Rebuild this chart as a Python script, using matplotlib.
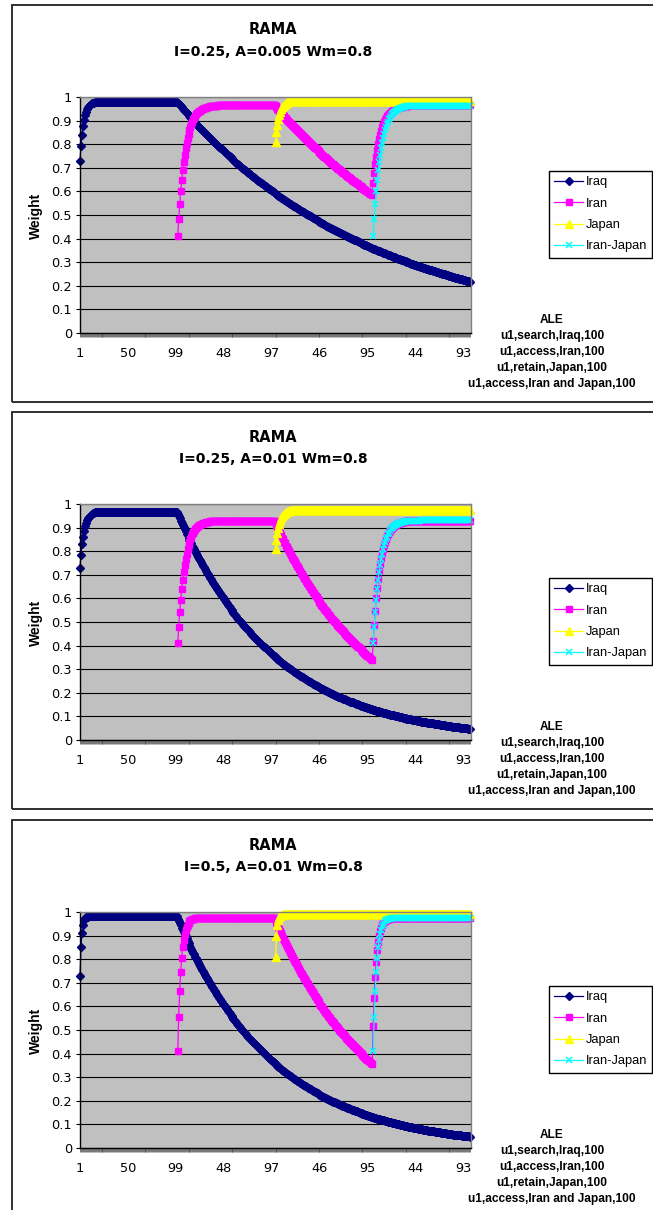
import numpy as np
import matplotlib
matplotlib.use("Agg")
import matplotlib.pyplot as plt
from matplotlib.patches import Rectangle
from matplotlib.ticker import FixedLocator

plt.rcParams['font.family'] = ['Liberation Sans', 'DejaVu Sans']

# ---------------- data ----------------
categories = [str(i % 100 + 1) for i in range(400)]
label_every = 49
y_ticks = [0.0, 0.1, 0.2, 0.3, 0.4, 0.5, 0.6, 0.7, 0.8, 0.9, 1.0]
y_tick_labels = ["0", "0.1", "0.2", "0.3", "0.4", "0.5", "0.6", "0.7", "0.8", "0.9", "1"]
series_names = ["Iraq", "Iran", "Japan", "Iran-Japan"]
titles = ["RAMA", "RAMA", "RAMA"]
subtitles = ["I=0.25, A=0.005 Wm=0.8", "I=0.25, A=0.01 Wm=0.8", "I=0.5, A=0.01 Wm=0.8"]
ale_lines = ["ALE", "u1,search,Iraq,100", "u1,access,Iran,100",
             "u1,retain,Japan,100", "u1,access,Iran and Japan,100"]

# Panel 1: I=0.25, A=0.005
iraq_a = [0.730, 0.794, 0.841, 0.876, 0.903, 0.922, 0.937, 0.948, 0.956, 0.962,
          0.967, 0.970, 0.973, 0.975, 0.976, 0.977, 0.978, 0.979, 0.979, 0.980] + [0.980] * 80 + [
    0.975, 0.970, 0.966, 0.961, 0.956, 0.951, 0.946, 0.942, 0.937, 0.932,
    0.928, 0.923, 0.919, 0.914, 0.910, 0.905, 0.901, 0.896, 0.892, 0.887,
    0.883, 0.878, 0.874, 0.869, 0.865, 0.861, 0.856, 0.852, 0.847, 0.843,
    0.839, 0.835, 0.831, 0.827, 0.823, 0.818, 0.814, 0.810, 0.806, 0.802,
    0.798, 0.794, 0.790, 0.786, 0.782, 0.779, 0.775, 0.771, 0.767, 0.763,
    0.759, 0.755, 0.752, 0.748, 0.744, 0.740, 0.736, 0.733, 0.729, 0.725,
    0.722, 0.718, 0.715, 0.711, 0.708, 0.704, 0.701, 0.697, 0.694, 0.690,
    0.687, 0.683, 0.680, 0.676, 0.673, 0.670, 0.666, 0.663, 0.659, 0.656,
    0.653, 0.650, 0.646, 0.643, 0.640, 0.637, 0.634, 0.630, 0.627, 0.624,
    0.621, 0.618, 0.615, 0.612, 0.609, 0.606, 0.603, 0.600, 0.597, 0.594,
    0.591, 0.588, 0.585, 0.582, 0.580, 0.577, 0.574, 0.571, 0.568, 0.565,
    0.562, 0.559, 0.557, 0.554, 0.551, 0.548, 0.545, 0.543, 0.540, 0.537,
    0.534, 0.532, 0.529, 0.527, 0.524, 0.521, 0.519, 0.516, 0.514, 0.511,
    0.509, 0.506, 0.504, 0.501, 0.499, 0.496, 0.494, 0.491, 0.489, 0.486,
    0.484, 0.481, 0.479, 0.476, 0.474, 0.472, 0.469, 0.467, 0.464, 0.462,
    0.460, 0.457, 0.455, 0.453, 0.451, 0.448, 0.446, 0.444, 0.441, 0.439,
    0.437, 0.435, 0.433, 0.431, 0.429, 0.426, 0.424, 0.422, 0.420, 0.418,
    0.416, 0.414, 0.412, 0.410, 0.408, 0.406, 0.404, 0.402, 0.400, 0.398,
    0.396, 0.394, 0.392, 0.390, 0.388, 0.386, 0.384, 0.382, 0.380, 0.378,
    0.376, 0.374, 0.373, 0.371, 0.369, 0.367, 0.365, 0.364, 0.362, 0.360,
    0.358, 0.356, 0.355, 0.353, 0.351, 0.349, 0.347, 0.346, 0.344, 0.342,
    0.340, 0.339, 0.337, 0.335, 0.334, 0.332, 0.330, 0.329, 0.327, 0.325,
    0.323, 0.322, 0.320, 0.319, 0.317, 0.315, 0.314, 0.312, 0.311, 0.309,
    0.308, 0.306, 0.305, 0.303, 0.302, 0.300, 0.299, 0.297, 0.296, 0.294,
    0.293, 0.291, 0.290, 0.288, 0.287, 0.286, 0.284, 0.283, 0.281, 0.280,
    0.279, 0.277, 0.276, 0.274, 0.273, 0.272, 0.270, 0.269, 0.267, 0.266,
    0.265, 0.263, 0.262, 0.261, 0.260, 0.258, 0.257, 0.256, 0.254, 0.253,
    0.252, 0.251, 0.249, 0.248, 0.247, 0.246, 0.245, 0.243, 0.242, 0.241,
    0.240, 0.239, 0.237, 0.236, 0.235, 0.234, 0.233, 0.231, 0.230, 0.229,
    0.228, 0.227, 0.226, 0.225, 0.224, 0.222, 0.221, 0.220, 0.219, 0.218]

iran_a = [None] * 100 + [
    0.410, 0.482, 0.545, 0.600, 0.647, 0.689, 0.725, 0.756, 0.783, 0.807,
    0.827, 0.845, 0.861, 0.874, 0.886, 0.896, 0.905, 0.913, 0.920, 0.926,
    0.931, 0.935, 0.939, 0.942, 0.945, 0.948, 0.950, 0.952, 0.954, 0.955,
    0.957, 0.958, 0.959, 0.960, 0.960, 0.961, 0.961, 0.962, 0.962, 0.963,
    0.963] + [0.964] * 9 + [0.965] * 50 + [
    0.960, 0.956, 0.951, 0.946, 0.941, 0.937, 0.932, 0.927, 0.923, 0.918,
    0.913, 0.909, 0.904, 0.900, 0.895, 0.891, 0.886, 0.882, 0.877, 0.873,
    0.869, 0.864, 0.860, 0.856, 0.852, 0.847, 0.843, 0.839, 0.835, 0.830,
    0.826, 0.822, 0.818, 0.814, 0.810, 0.806, 0.802, 0.798, 0.794, 0.790,
    0.786, 0.782, 0.778, 0.774, 0.770, 0.767, 0.763, 0.759, 0.755, 0.751,
    0.747, 0.744, 0.740, 0.736, 0.733, 0.729, 0.725, 0.722, 0.718, 0.714,
    0.711, 0.707, 0.704, 0.700, 0.697, 0.693, 0.690, 0.686, 0.683, 0.679,
    0.676, 0.673, 0.669, 0.666, 0.663, 0.659, 0.656, 0.653, 0.649, 0.646,
    0.643, 0.640, 0.637, 0.634, 0.630, 0.627, 0.624, 0.621, 0.618, 0.615,
    0.612, 0.609, 0.606, 0.603, 0.600, 0.597, 0.594, 0.591, 0.588, 0.585] + [
    0.634, 0.677, 0.715, 0.747, 0.776, 0.800, 0.822, 0.840, 0.857, 0.871,
    0.883, 0.894, 0.903, 0.911, 0.918, 0.924, 0.929, 0.934, 0.938, 0.942,
    0.945, 0.947, 0.950, 0.952, 0.953, 0.955, 0.956, 0.957, 0.958, 0.959,
    0.960, 0.961, 0.961, 0.962, 0.962, 0.963, 0.963] + [0.964] * 10 + [0.965] * 53

japan_a = [None] * 200 + [
    0.810, 0.850, 0.881, 0.905, 0.924, 0.938, 0.949, 0.957, 0.963, 0.968,
    0.972, 0.975, 0.977, 0.979, 0.981, 0.982, 0.982, 0.983, 0.983, 0.984] + [0.984] * 10 + [0.985] * 170

iran_japan_a = [None] * 300 + [
    0.410, 0.482, 0.545, 0.600, 0.647, 0.689, 0.725, 0.756, 0.783, 0.807,
    0.827, 0.845, 0.861, 0.874, 0.886, 0.896, 0.905, 0.913, 0.920, 0.926,
    0.931, 0.935, 0.939, 0.942, 0.945, 0.948, 0.950, 0.952, 0.954, 0.955,
    0.957, 0.958, 0.959, 0.960, 0.960, 0.961, 0.961, 0.962, 0.962, 0.962,
    0.963] + [0.963] * 59

# Panel 2: I=0.25, A=0.01
iraq_b = [0.730, 0.785, 0.829, 0.862, 0.887, 0.906, 0.920, 0.931, 0.940, 0.946,
          0.951, 0.955, 0.958, 0.960, 0.962, 0.964, 0.965, 0.966, 0.967, 0.967,
          0.968] + [0.968] * 79 + [
    0.958, 0.949, 0.939, 0.930, 0.921, 0.911, 0.902, 0.893, 0.884, 0.875,
    0.867, 0.858, 0.849, 0.841, 0.833, 0.824, 0.816, 0.808, 0.800, 0.792,
    0.784, 0.776, 0.768, 0.761, 0.753, 0.745, 0.738, 0.731, 0.723, 0.716,
    0.709, 0.702, 0.695, 0.688, 0.681, 0.674, 0.667, 0.661, 0.654, 0.648,
    0.641, 0.635, 0.628, 0.622, 0.616, 0.610, 0.604, 0.598, 0.592, 0.586,
    0.580, 0.574, 0.568, 0.563, 0.557, 0.551, 0.546, 0.540, 0.535, 0.530,
    0.524, 0.519, 0.514, 0.509, 0.504, 0.499, 0.494, 0.489, 0.484, 0.479,
    0.474, 0.470, 0.465, 0.460, 0.456, 0.451, 0.447, 0.442, 0.438, 0.433,
    0.429, 0.425, 0.420, 0.416, 0.412, 0.408, 0.404, 0.400, 0.396, 0.392,
    0.388, 0.384, 0.380, 0.376, 0.373, 0.369, 0.365, 0.362, 0.358, 0.354,
    0.351, 0.347, 0.344, 0.340, 0.337, 0.334, 0.330, 0.327, 0.324, 0.320,
    0.317, 0.314, 0.311, 0.308, 0.305, 0.302, 0.299, 0.296, 0.293, 0.290,
    0.287, 0.284, 0.281, 0.278, 0.276, 0.273, 0.270, 0.267, 0.265, 0.262,
    0.260, 0.257, 0.254, 0.252, 0.249, 0.247, 0.244, 0.242, 0.239, 0.237,
    0.235, 0.232, 0.230, 0.228, 0.225, 0.223, 0.221, 0.219, 0.217, 0.214,
    0.212, 0.210, 0.208, 0.206, 0.204, 0.202, 0.200, 0.198, 0.196, 0.194,
    0.192, 0.190, 0.188, 0.186, 0.184, 0.183, 0.181, 0.179, 0.177, 0.175,
    0.174, 0.172, 0.170, 0.168, 0.167, 0.165, 0.163, 0.162, 0.160, 0.159,
    0.157, 0.155, 0.154, 0.152, 0.151, 0.149, 0.148, 0.146, 0.145, 0.143,
    0.142, 0.141, 0.139, 0.138, 0.136, 0.135, 0.134, 0.132, 0.131, 0.130,
    0.128, 0.127, 0.126, 0.125, 0.123, 0.122, 0.121, 0.120, 0.119, 0.117,
    0.116, 0.115, 0.114, 0.113, 0.112, 0.110, 0.109, 0.108, 0.107, 0.106,
    0.105, 0.104, 0.103, 0.102, 0.101, 0.100, 0.099, 0.098, 0.097, 0.096,
    0.095, 0.094, 0.093, 0.092, 0.091, 0.090, 0.089, 0.089, 0.088, 0.087,
    0.086, 0.085, 0.084, 0.083, 0.083, 0.082, 0.081, 0.080, 0.079, 0.078,
    0.078, 0.077, 0.076, 0.075, 0.075, 0.074, 0.073, 0.072, 0.072, 0.071,
    0.070, 0.070, 0.069, 0.068, 0.068, 0.067, 0.066, 0.066, 0.065, 0.064,
    0.064, 0.063, 0.062, 0.062, 0.061, 0.060, 0.060, 0.059, 0.059, 0.058,
    0.058, 0.057, 0.056, 0.056, 0.055, 0.055, 0.054, 0.054, 0.053, 0.052,
    0.052, 0.051, 0.051, 0.050, 0.050, 0.049, 0.049, 0.048, 0.048, 0.047]

iran_b = [None] * 100 + [
    0.410, 0.480, 0.541, 0.593, 0.639, 0.678, 0.712, 0.742, 0.767, 0.789,
    0.808, 0.825, 0.839, 0.851, 0.862, 0.871, 0.879, 0.886, 0.892, 0.897,
    0.901, 0.905, 0.909, 0.912, 0.914, 0.916, 0.918, 0.920, 0.921, 0.922,
    0.923, 0.924, 0.925, 0.926, 0.926, 0.927, 0.927, 0.928, 0.928] + [0.929] * 10 + [0.930] * 51 + [
    0.921, 0.911, 0.902, 0.893, 0.884, 0.876, 0.867, 0.858, 0.850, 0.841,
    0.833, 0.824, 0.816, 0.808, 0.800, 0.792, 0.784, 0.776, 0.768, 0.761,
    0.753, 0.746, 0.738, 0.731, 0.723, 0.716, 0.709, 0.702, 0.695, 0.688,
    0.681, 0.674, 0.667, 0.661, 0.654, 0.648, 0.641, 0.635, 0.628, 0.622,
    0.616, 0.610, 0.604, 0.598, 0.592, 0.586, 0.580, 0.574, 0.568, 0.563,
    0.557, 0.551, 0.546, 0.541, 0.535, 0.530, 0.524, 0.519, 0.514, 0.509,
    0.504, 0.499, 0.494, 0.489, 0.484, 0.479, 0.474, 0.470, 0.465, 0.460,
    0.456, 0.451, 0.447, 0.442, 0.438, 0.433, 0.429, 0.425, 0.420, 0.416,
    0.412, 0.408, 0.404, 0.400, 0.396, 0.392, 0.388, 0.384, 0.380, 0.376,
    0.373, 0.369, 0.365, 0.362, 0.358, 0.354, 0.351, 0.347, 0.344, 0.340] + [
    0.420, 0.489, 0.548, 0.600, 0.644, 0.683, 0.716, 0.745, 0.770, 0.792,
    0.810, 0.827, 0.840, 0.853, 0.863, 0.872, 0.880, 0.887, 0.893, 0.898,
    0.902, 0.906, 0.909, 0.912, 0.914, 0.916, 0.918, 0.920, 0.921, 0.922,
    0.923, 0.924, 0.925, 0.926, 0.926, 0.927, 0.927, 0.928, 0.928] + [0.929] * 10 + [0.930] * 51

japan_b = [None] * 200 + [
    0.810, 0.848, 0.877, 0.900, 0.917, 0.930, 0.941, 0.949, 0.955, 0.959,
    0.963, 0.966, 0.968, 0.970, 0.971, 0.972, 0.973, 0.973] + [0.974] * 10 + [0.975] * 172

iran_japan_b = [None] * 300 + [
    0.410, 0.480, 0.541, 0.593, 0.639, 0.678, 0.712, 0.742, 0.767, 0.789,
    0.808, 0.825, 0.839, 0.851, 0.862, 0.871, 0.879, 0.886, 0.892, 0.897,
    0.901, 0.905, 0.909, 0.912, 0.914, 0.916, 0.918, 0.920, 0.921, 0.922,
    0.923, 0.924, 0.925, 0.926, 0.926, 0.927, 0.927, 0.928, 0.928] + [0.930] * 10 + [0.932] * 51

# Panel 3: I=0.5, A=0.01
iraq_c = [0.730, 0.850, 0.912, 0.946, 0.964, 0.973, 0.977, 0.979, 0.980, 0.981] + [0.982] * 90 + [
    0.972, 0.962, 0.953, 0.943, 0.934, 0.925, 0.915, 0.906, 0.897, 0.888,
    0.879, 0.870, 0.862, 0.853, 0.845, 0.836, 0.828, 0.820, 0.811, 0.803,
    0.795, 0.787, 0.779, 0.772, 0.764, 0.756, 0.749, 0.741, 0.734, 0.726,
    0.719, 0.712, 0.705, 0.698, 0.691, 0.684, 0.677, 0.670, 0.664, 0.657,
    0.650, 0.644, 0.637, 0.631, 0.625, 0.618, 0.612, 0.606, 0.600, 0.594,
    0.588, 0.582, 0.576, 0.571, 0.565, 0.559, 0.554, 0.548, 0.543, 0.537,
    0.532, 0.527, 0.521, 0.516, 0.511, 0.506, 0.501, 0.496, 0.491, 0.486,
    0.481, 0.476, 0.472, 0.467, 0.462, 0.458, 0.453, 0.448, 0.444, 0.439,
    0.435, 0.431, 0.426, 0.422, 0.418, 0.414, 0.410, 0.406, 0.401, 0.397,
    0.394, 0.390, 0.386, 0.382, 0.378, 0.374, 0.370, 0.367, 0.363, 0.359,
    0.356, 0.352, 0.349, 0.345, 0.342, 0.338, 0.335, 0.332, 0.328, 0.325,
    0.322, 0.319, 0.315, 0.312, 0.309, 0.306, 0.303, 0.300, 0.297, 0.294,
    0.291, 0.288, 0.285, 0.282, 0.280, 0.277, 0.274, 0.271, 0.269, 0.266,
    0.263, 0.261, 0.258, 0.255, 0.253, 0.250, 0.248, 0.245, 0.243, 0.240,
    0.238, 0.236, 0.233, 0.231, 0.229, 0.226, 0.224, 0.222, 0.220, 0.217,
    0.215, 0.213, 0.211, 0.209, 0.207, 0.205, 0.203, 0.201, 0.199, 0.197,
    0.195, 0.193, 0.191, 0.189, 0.187, 0.185, 0.183, 0.181, 0.180, 0.178,
    0.176, 0.174, 0.173, 0.171, 0.169, 0.168, 0.166, 0.164, 0.163, 0.161,
    0.159, 0.158, 0.156, 0.155, 0.153, 0.151, 0.150, 0.148, 0.147, 0.146,
    0.144, 0.143, 0.141, 0.140, 0.138, 0.137, 0.136, 0.134, 0.133, 0.132,
    0.130, 0.129, 0.128, 0.126, 0.125, 0.124, 0.123, 0.121, 0.120, 0.119,
    0.118, 0.117, 0.115, 0.114, 0.113, 0.112, 0.111, 0.110, 0.109, 0.108,
    0.107, 0.105, 0.104, 0.103, 0.102, 0.101, 0.100, 0.099, 0.098, 0.097,
    0.096, 0.095, 0.094, 0.093, 0.093, 0.092, 0.091, 0.090, 0.089, 0.088,
    0.087, 0.086, 0.085, 0.085, 0.084, 0.083, 0.082, 0.081, 0.080, 0.080,
    0.079, 0.078, 0.077, 0.076, 0.076, 0.075, 0.074, 0.073, 0.073, 0.072,
    0.071, 0.071, 0.070, 0.069, 0.068, 0.068, 0.067, 0.066, 0.066, 0.065,
    0.064, 0.064, 0.063, 0.063, 0.062, 0.061, 0.061, 0.060, 0.059, 0.059,
    0.058, 0.058, 0.057, 0.057, 0.056, 0.055, 0.055, 0.054, 0.054, 0.053,
    0.053, 0.052, 0.052, 0.051, 0.051, 0.050, 0.050, 0.049, 0.049, 0.048]

iran_c = [None] * 100 + [
    0.410, 0.557, 0.666, 0.746, 0.806, 0.850, 0.882, 0.906, 0.924, 0.937,
    0.947, 0.954, 0.960, 0.964, 0.967, 0.969, 0.970, 0.972, 0.973, 0.973] + [0.974] * 10 + [0.975] * 70 + [
    0.965, 0.956, 0.946, 0.937, 0.927, 0.918, 0.909, 0.900, 0.891, 0.882,
    0.873, 0.864, 0.856, 0.847, 0.839, 0.830, 0.822, 0.814, 0.806, 0.797,
    0.790, 0.782, 0.774, 0.766, 0.758, 0.751, 0.743, 0.736, 0.729, 0.721,
    0.714, 0.707, 0.700, 0.693, 0.686, 0.679, 0.672, 0.666, 0.659, 0.652,
    0.646, 0.639, 0.633, 0.627, 0.620, 0.614, 0.608, 0.602, 0.596, 0.590,
    0.584, 0.578, 0.572, 0.567, 0.561, 0.555, 0.550, 0.544, 0.539, 0.533,
    0.528, 0.523, 0.518, 0.512, 0.507, 0.502, 0.497, 0.492, 0.487, 0.482,
    0.478, 0.473, 0.468, 0.463, 0.459, 0.454, 0.450, 0.445, 0.441, 0.436,
    0.432, 0.428, 0.423, 0.419, 0.415, 0.411, 0.407, 0.403, 0.399, 0.395,
    0.391, 0.387, 0.383, 0.379, 0.375, 0.372, 0.368, 0.364, 0.361, 0.357] + [
    0.518, 0.637, 0.725, 0.790, 0.838, 0.874, 0.900, 0.919, 0.934, 0.945,
    0.953, 0.958, 0.963, 0.966, 0.968, 0.970, 0.971, 0.972, 0.973] + [0.974] * 10 + [0.975] * 71

japan_c = [None] * 200 + [0.810, 0.900, 0.945, 0.968, 0.979, 0.984, 0.987, 0.989] + [0.990] * 192

iran_japan_c = [None] * 300 + [
    0.410, 0.557, 0.666, 0.746, 0.806, 0.850, 0.882, 0.906, 0.924, 0.937,
    0.947, 0.954, 0.960, 0.964, 0.967, 0.969, 0.970, 0.972, 0.973, 0.973] + [0.974] * 10 + [0.975] * 70

panels = [
    (iraq_a, iran_a, japan_a, iran_japan_a),
    (iraq_b, iran_b, japan_b, iran_japan_b),
    (iraq_c, iran_c, japan_c, iran_japan_c),
]

# ---------------- styling ----------------
styles = [
    dict(color="#000080", marker="D", ms=3.7, mec="#000080", mfc="#000080"),
    dict(color="#FF00FF", marker="s", ms=4.6, mec="#FF00FF", mfc="#FF00FF"),
    dict(color="#FFFF00", marker="^", ms=5.4, mec="#FFFF00", mfc="#FFFF00"),
    dict(color="#00FFFF", marker="x", ms=5.0, mec="#00FFFF", mew=1.1),
]

W, H = 653, 1210
fig = plt.figure(figsize=(W / 100, H / 100), dpi=100)
fig.patch.set_facecolor("white")


def fx(x):
    return x / W


def fy(y):
    return 1 - y / H


offsets = [0, 407, 815]

for p, (off, series) in enumerate(zip(offsets, panels)):
    # chart border
    fig.add_artist(Rectangle((fx(12), fy(402 + off)), fx(700) - fx(12), 397 / H,
                             transform=fig.transFigure, fill=False,
                             ec="#202020", lw=1.3))
    ax = fig.add_axes([fx(80), fy(333 + off), 391 / W, 236 / H])
    ax.set_facecolor("#C0C0C0")
    ax.set_xlim(0, 400)
    ax.set_ylim(0, 1)

    handles = []
    for name, vals, st in zip(series_names, series, styles):
        yv = np.array(vals, dtype=float)
        xv = np.arange(len(yv))
        ln, = ax.plot(xv, yv, lw=0.9, clip_on=False, label=name, **st)
        handles.append(ln)

    # y axis
    ax.set_yticks(y_ticks)
    ax.set_yticklabels(y_tick_labels, fontsize=9.3, family="DejaVu Sans")
    ax.yaxis.grid(True, color="black", lw=0.8)
    ax.set_axisbelow(True)
    ax.tick_params(axis="y", direction="out", length=2.9, width=0.8, pad=2.8,
                   color="black")

    # x axis
    major = list(range(0, len(categories), label_every))
    ax.xaxis.set_major_locator(FixedLocator(major))
    ax.set_xticklabels([categories[i] for i in major], fontsize=9.3, family="DejaVu Sans")
    ax.xaxis.set_minor_locator(FixedLocator(list(range(len(categories)))))
    ax.tick_params(axis="x", which="both", direction="out", length=2.9,
                   width=0.5, color="#404040", pad=7.5)

    for s in ("left", "bottom"):
        ax.spines[s].set_color("black")
        ax.spines[s].set_linewidth(1.0)
    for s in ("top", "right"):
        ax.spines[s].set_color("#808080")
        ax.spines[s].set_linewidth(1.0)

    # titles
    fig.text(fx(273), fy(30 + off), titles[p], ha="center", va="center",
             fontsize=10.5, fontweight="bold", family="DejaVu Sans")
    fig.text(fx(273), fy(52 + off), subtitles[p], ha="center", va="center",
             fontsize=10, fontweight="bold", family="DejaVu Sans")
    fig.text(fx(36), fy(216 + off), "Weight", ha="center", va="center",
             rotation=90, fontsize=10, fontweight="bold")

    # legend
    leg = ax.legend(handles=handles, loc="upper left",
                    bbox_to_anchor=(fx(549), fy(171 + off)),
                    bbox_transform=fig.transFigure, borderaxespad=0,
                    frameon=True, fancybox=False, edgecolor="black",
                    framealpha=1, fontsize=9.3, handlelength=2.2,
                    handletextpad=0.2, borderpad=0.42, labelspacing=0.72,
                    numpoints=1)
    leg.get_frame().set_linewidth(1.0)

    # ALE axis title block
    for i, line in enumerate(ale_lines):
        fig.text(fx(552), fy(320 + 16 * i + off), line, ha="center", va="center",
                 fontsize=8.6, fontweight="bold")

fig.savefig("out.png", dpi=100, facecolor="white")
